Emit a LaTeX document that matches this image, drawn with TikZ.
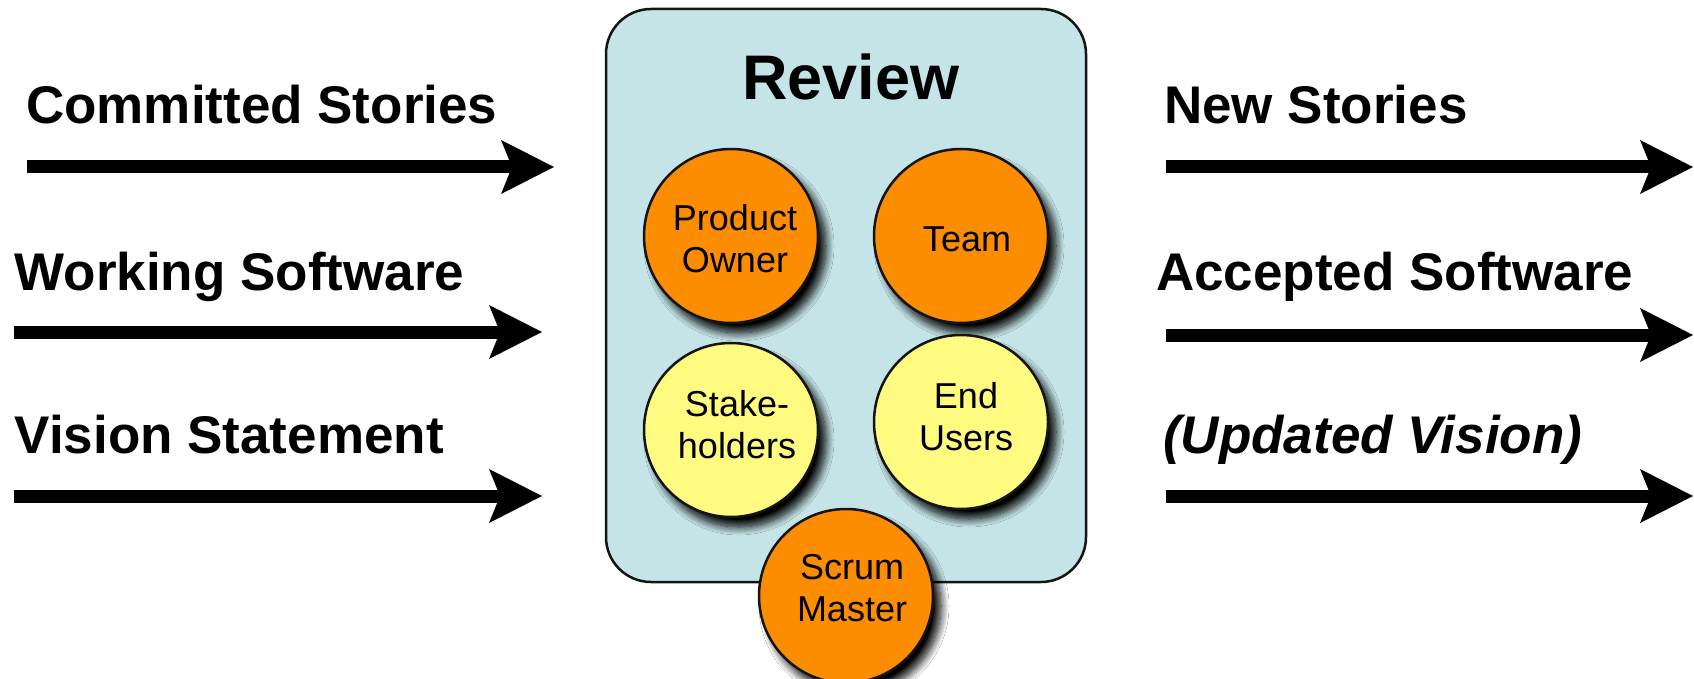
\documentclass[tikz,border=0pt]{standalone}
\usepackage{fontspec}
\setmainfont{Liberation Sans}
\usetikzlibrary{arrows.meta,shadows.blur,calc}

\definecolor{boxfill}{RGB}{196,228,231}
\definecolor{roleorange}{RGB}{253,141,0}
\definecolor{roleyellow}{RGB}{255,250,128}
\definecolor{edgeline}{RGB}{20,20,20}

\tikzset{
  flow/.style={line width=13pt, draw=black,
    -{Stealth[length=53pt, width=54pt, inset=11pt, line width=0pt]}},
  flowlabel/.style={anchor=base west, inner sep=0pt,
    font=\fontsize{53}{60}\selectfont\bfseries},
  reviewbox/.style={draw=edgeline, line width=2.5pt, fill=boxfill,
    rounded corners=45pt, minimum width=480pt, minimum height=573pt,
    inner sep=0pt},
  role/.style={circle, draw=edgeline, line width=2.5pt, minimum size=174pt,
    inner sep=0pt,
    blur shadow={shadow xshift=8pt, shadow yshift=-10pt,
      shadow blur radius=8pt, shadow opacity=100, shadow blur steps=12}},
  roletext/.style={align=center, inner sep=0pt,
    font=\fontsize{36}{42}\selectfont},
}

\begin{document}
\begin{tikzpicture}[x=1pt, y=-1pt]
  % page area
  \fill[white] (0,0) rectangle (1694,679);
  \useasboundingbox (0,0) rectangle (1694,679);

  % inputs
  \node[flowlabel] (inA) at (26,124) {Committed Stories};
  \node[flowlabel] (inB) at (14.5,290) {Working Software};
  \node[flowlabel] (inC) at (14.5,453) {Vision Statement};
  \coordinate (inAs) at (27,167);  \coordinate (inAe) at (554,167);
  \coordinate (inBs) at (14,332);  \coordinate (inBe) at (542,332);
  \coordinate (inCs) at (14,496);  \coordinate (inCe) at (542,496);
  \draw[flow] (inAs) -- (inAe);
  \draw[flow] (inBs) -- (inBe);
  \draw[flow] (inCs) -- (inCe);

  % outputs
  \node[flowlabel] (outA) at (1164,124) {New Stories};
  \node[flowlabel] (outB) at (1156,290) {Accepted Software};
  \node[flowlabel, font=\fontsize{53}{60}\selectfont\bfseries\itshape] (outC) at (1163,453) {(Updated Vision)};
  \coordinate (outAs) at (1166,167); \coordinate (outAe) at (1693,167);
  \coordinate (outBs) at (1166,335); \coordinate (outBe) at (1693,335);
  \coordinate (outCs) at (1166,496); \coordinate (outCe) at (1693,496);
  \draw[flow] (outAs) -- (outAe);
  \draw[flow] (outBs) -- (outBe);
  \draw[flow] (outCs) -- (outCe);

  % review meeting
  \node[reviewbox] (review) at (846,295.5) {};
  \node[anchor=base, inner sep=0pt, font=\fontsize{63}{70}\selectfont\bfseries]
    (title) at (851,100) {Review};

  % participants
  \node[role, fill=roleorange] (po) at (731,236) {};
  \node[role, fill=roleorange] (team) at (961,236) {};
  \node[role, fill=roleyellow] (stake) at (731,430) {};
  \node[role, fill=roleyellow] (users) at (961,422) {};
  \node[role, fill=roleorange] (sm) at (846,596) {};

  \node[roletext] (poT) at ($(po)+(4,3)$) {Product\\Owner};
  \node[roletext] (teamT) at ($(team)+(6,3)$) {Team};
  \node[roletext] (stakeT) at ($(stake)+(6,-5)$) {Stake-\\holders};
  \node[roletext] (usersT) at ($(users)+(5,-5)$) {End\\Users};
  \node[roletext] (smT) at ($(sm)+(6,-8)$) {Scrum\\Master};
\end{tikzpicture}
\end{document}
